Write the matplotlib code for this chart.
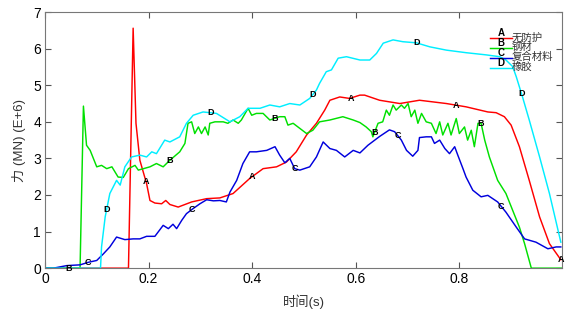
import numpy as np
import matplotlib.pyplot as plt

plt.rcParams['font.family'] = ['Liberation Sans', 'Noto Sans CJK SC', 'DejaVu Sans']

# A 无防护
t_a = [0, 0.107, 0.161, 0.170, 0.1755, 0.183, 0.196, 0.2025, 0.212, 0.225,
       0.233, 0.241, 0.257, 0.283, 0.312, 0.3375, 0.363, 0.395, 0.421, 0.447,
       0.466, 0.485, 0.505, 0.524, 0.540, 0.550, 0.569, 0.588, 0.608, 0.617,
       0.646, 0.685, 0.723, 0.775, 0.813, 0.855, 0.871, 0.887, 0.900, 0.916,
       0.935, 0.955, 0.974, 0.996]
f_a = [0, 0, 0, 6.56, 3.96, 2.95, 2.31, 1.85, 1.78, 1.76,
       1.85, 1.74, 1.67, 1.81, 1.90, 1.92, 2.04, 2.45, 2.72, 2.77,
       2.90, 3.18, 3.64, 3.96, 4.32, 4.59, 4.68, 4.64, 4.73, 4.73,
       4.59, 4.50, 4.59, 4.50, 4.41, 4.27, 4.25, 4.14, 3.91, 3.32,
       2.40, 1.40, 0.67, 0.23]

# B 钢材
t_b = [0, 0.0675, 0.074, 0.080, 0.087, 0.0997, 0.109, 0.119, 0.129, 0.141,
       0.151, 0.161, 0.1736, 0.180, 0.190, 0.2025, 0.215, 0.228, 0.241, 0.260,
       0.270, 0.276, 0.283, 0.289, 0.296, 0.302, 0.309, 0.315, 0.318, 0.328,
       0.344, 0.353, 0.363, 0.373, 0.379, 0.392, 0.399, 0.408, 0.421, 0.434,
       0.453, 0.463, 0.469, 0.479, 0.492, 0.505, 0.517, 0.530, 0.550, 0.575,
       0.595, 0.608, 0.620, 0.630, 0.633, 0.643, 0.652, 0.659, 0.665, 0.672,
       0.678, 0.688, 0.694, 0.701, 0.707, 0.714, 0.720, 0.727, 0.736, 0.746,
       0.755, 0.762, 0.768, 0.778, 0.784, 0.794, 0.800, 0.810, 0.816, 0.823,
       0.829, 0.836, 0.842, 0.849, 0.858, 0.874, 0.890, 0.903, 0.916, 0.926,
       0.939, 0.998]
f_b = [0, 0, 4.43, 3.36, 3.22, 2.77, 2.81, 2.72, 2.77, 2.49,
       2.48, 2.72, 2.81, 2.68, 2.72, 2.77, 2.86, 2.77, 2.95, 3.18,
       3.41, 3.96, 4.00, 3.68, 3.86, 3.68, 3.86, 3.64, 3.96, 4.00,
       4.00, 3.96, 4.05, 3.96, 4.05, 4.37, 4.18, 4.23, 4.23, 4.05,
       4.14, 4.14, 3.91, 3.96, 3.82, 3.68, 3.77, 4.00, 4.05, 4.14,
       4.05, 3.98, 3.86, 3.73, 3.59, 3.96, 4.00, 4.32, 4.18, 4.46,
       4.32, 4.46, 4.37, 4.50, 4.14, 4.32, 3.96, 4.23, 4.00, 3.96,
       3.68, 4.00, 3.64, 3.96, 3.64, 4.09, 3.68, 3.86, 3.50, 3.77,
       3.32, 3.96, 3.96, 3.50, 3.04, 2.40, 2.04, 1.58, 1.12, 0.67,
       0, 0]

# C 复合材料
t_c = [0, 0.016, 0.042, 0.0675, 0.0835, 0.0997, 0.1125, 0.125, 0.138, 0.154,
       0.170, 0.183, 0.196, 0.212, 0.228, 0.238, 0.247, 0.254, 0.264, 0.273,
       0.286, 0.299, 0.312, 0.325, 0.3375, 0.350, 0.357, 0.370, 0.382, 0.395,
       0.408, 0.428, 0.444, 0.453, 0.463, 0.4725, 0.482, 0.492, 0.511, 0.524,
       0.537, 0.550, 0.5626, 0.5786, 0.595, 0.608, 0.6235, 0.646, 0.665, 0.675,
       0.688, 0.698, 0.710, 0.720, 0.723, 0.736, 0.746, 0.752, 0.762, 0.772,
       0.781, 0.791, 0.797, 0.807, 0.813, 0.826, 0.842, 0.855, 0.874, 0.890,
       0.910, 0.926, 0.948, 0.971, 0.987, 0.996]
f_c = [0, 0, 0.07, 0.09, 0.16, 0.21, 0.39, 0.58, 0.85, 0.78,
       0.80, 0.80, 0.87, 0.87, 1.17, 1.08, 1.20, 1.08, 1.31, 1.49,
       1.63, 1.76, 1.87, 1.84, 1.85, 1.81, 2.08, 2.40, 2.86, 3.18,
       3.18, 3.22, 3.32, 3.09, 2.88, 3.00, 2.72, 2.68, 2.77, 3.04,
       3.45, 3.27, 3.22, 3.04, 3.22, 3.15, 3.36, 3.60, 3.78, 3.73,
       3.50, 3.22, 3.06, 3.22, 3.57, 3.59, 3.59, 3.41, 3.50, 3.27,
       3.13, 3.32, 3.09, 2.72, 2.49, 2.13, 1.95, 1.99, 1.81, 1.53,
       1.12, 0.80, 0.71, 0.53, 0.58, 0.58]

# D 橡胶
t_d = [0, 0.107, 0.109, 0.116, 0.125, 0.138, 0.145, 0.154, 0.167, 0.183,
       0.196, 0.206, 0.215, 0.231, 0.241, 0.260, 0.273, 0.286, 0.305, 0.331,
       0.357, 0.376, 0.392, 0.415, 0.434, 0.453, 0.4725, 0.492, 0.511, 0.524,
       0.530, 0.543, 0.553, 0.566, 0.582, 0.608, 0.627, 0.640, 0.653, 0.672,
       0.691, 0.717, 0.743, 0.775, 0.813, 0.852, 0.878, 0.890, 0.903, 0.910,
       0.922, 0.935, 0.955, 0.974, 0.996]
f_d = [0, 0, 0.58, 1.40, 2.04, 2.40, 2.27, 2.77, 3.04, 3.09,
       3.04, 3.18, 3.13, 3.50, 3.45, 3.59, 3.96, 4.18, 4.27, 4.23,
       4.00, 4.14, 4.37, 4.37, 4.46, 4.41, 4.50, 4.46, 4.64, 4.87,
       5.05, 5.37, 5.42, 5.74, 5.78, 5.69, 5.69, 5.87, 6.15, 6.24,
       6.19, 6.16, 6.05, 5.96, 5.89, 5.83, 5.78, 5.69, 5.51, 5.23,
       4.68, 4.05, 3.04, 2.04, 0.71]

letters = ['A', 'B', 'C', 'D']
names = ['无防护', '钢材', '复合材料', '橡胶']
colors = ['#ff0000', '#00e000', '#0000dd', '#00eeff']
# where the letter tags sit along each curve (time)
mark_t = {
    'A': [0.195, 0.40, 0.59, 0.794, 0.996],
    'B': [0.045, 0.241, 0.444, 0.636, 0.842],
    'C': [0.0835, 0.283, 0.482, 0.681, 0.881],
    'D': [0.119, 0.32, 0.517, 0.717, 0.92],
}

series = [(t_a, f_a), (t_b, f_b), (t_c, f_c), (t_d, f_d)]

fig = plt.figure(figsize=(5.71, 3.10), dpi=100)
ax = fig.add_axes([0.079, 0.135, 0.905, 0.826])

for (t, f), c in zip(series, colors):
    ax.plot(t, f, color=c, lw=1.05)
for (t, f), let in zip(series, letters):
    for xm in mark_t[let]:
        ym = np.interp(xm, t, f)
        ax.text(xm, ym, let, fontsize=6.5, fontweight='bold', ha='center', va='center',
                family='Liberation Sans', zorder=5)

# legend drawn by hand
for i, (c, let, nm) in enumerate(zip(colors, letters, names)):
    yy = 0.898 - i * 0.039
    ax.plot([0.861, 0.903], [yy, yy], color=c, lw=1.05, transform=ax.transAxes, clip_on=False)
    ax.text(0.882, yy + 0.002, let, fontsize=7, fontweight='bold', ha='center', va='bottom',
            transform=ax.transAxes, family='Liberation Sans')
    ax.text(0.903, yy + 0.004, nm, fontsize=7.5, color='#333333', ha='left', va='center',
            transform=ax.transAxes, family=['Noto Sans CJK SC', 'DejaVu Sans'])

ax.set_xlim(0, 0.998)
ax.set_ylim(0, 7)
ax.set_xticks([0, 0.2, 0.4, 0.6, 0.8])
ax.set_xticklabels(['0', '0.2', '0.4', '0.6', '0.8'])
ax.set_yticks(range(8))
ax.tick_params(direction='in', length=4, top=True, right=True, labelsize=10, color='#555555',
               pad=3)
for s in ax.spines.values():
    s.set_color('#777777')

ax.set_xlabel('时间(s)', fontsize=9.5, color='#333333', labelpad=6)
ax.set_ylabel('力 (MN) (E+6)', fontsize=9.5, color='#333333', labelpad=5)

fig.savefig('out.png', dpi=100)
